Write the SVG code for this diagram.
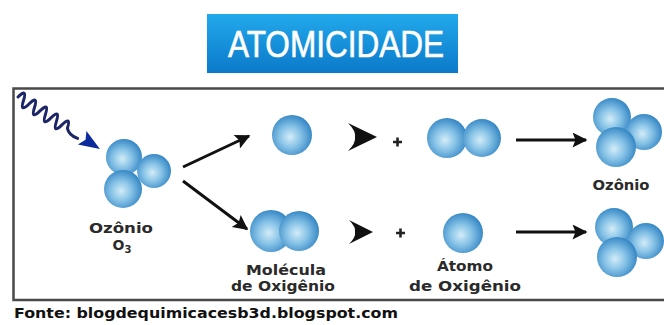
<svg xmlns="http://www.w3.org/2000/svg" width="664" height="325" viewBox="0 0 664 325">
  <defs>
    <linearGradient id="titleFill" x1="0" y1="0" x2="0" y2="1">
      <stop offset="0" stop-color="#22a9ec"/>
      <stop offset="1" stop-color="#0b79c9"/>
    </linearGradient>
    <radialGradient id="atom" cx="0.45" cy="0.55" r="0.6">
      <stop offset="0" stop-color="#d3ecf8"/>
      <stop offset="0.45" stop-color="#86c2e6"/>
      <stop offset="1" stop-color="#2a7fc0"/>
    </radialGradient>
    <marker id="head" viewBox="0 0 10 10" refX="9" refY="5" markerWidth="6" markerHeight="5" orient="auto" markerUnits="strokeWidth">
      <path d="M0,0 L10,5 L0,10 L2,5 Z" fill="#111"/>
    </marker>
  </defs>
  <style>
    .lbl { font-family: "DejaVu Sans", "Liberation Sans", sans-serif; font-weight: bold; font-size: 14px; fill: #2a2a2a; text-anchor: middle; }
    .conn { stroke: #111; stroke-width: 3; fill: none; marker-end: url(#head); }
    .chev { fill: #111; }
    .plus { stroke: #222; stroke-width: 2.6; }
    .atom { fill: url(#atom); }
  </style>

  <!-- title banner -->
  <g id="title">
    <rect x="207" y="14" width="251" height="59" fill="url(#titleFill)"/>
    <text x="336" y="57" font-family="'Liberation Sans', Arial, sans-serif" font-size="37" fill="#ffffff" stroke="#ffffff" stroke-width="0.6" text-anchor="middle" textLength="216" lengthAdjust="spacingAndGlyphs">ATOMICIDADE</text>
  </g>

  <!-- panel frame (open on the right) -->
  <path d="M670,88.5 H13.5 V300 H670" fill="none" stroke="#4a4a4a" stroke-width="2.5"/>

  <!-- incoming light wave -->
  <g id="light" transform="translate(18,97) rotate(32.4)">
    <path d="M0,0 q3,-13 6.5,0 t6.5,0 t6.5,0 t6.5,0 t6.5,0 t6.5,0 t6.5,0 t6.5,0 t6.5,0 q5,5 14,3" fill="none" stroke="#1c2566" stroke-width="3" stroke-linecap="round"/>
    <path d="M76,-8 L97,0 L76,8 L80,0 Z" fill="#0b2a9c"/>
  </g>

  <!-- ozone reactant -->
  <g id="ozone-left">
    <circle class="atom" cx="124" cy="157" r="18"/>
    <circle class="atom" cx="154" cy="171" r="17"/>
    <circle class="atom" cx="123" cy="189" r="19"/>
    <text class="lbl" x="121" y="233" textLength="64" lengthAdjust="spacingAndGlyphs">Ozônio</text>
    <text class="lbl" x="122" y="250" font-size="16">O<tspan font-size="10" dy="3">3</tspan></text>
  </g>

  <!-- top row -->
  <g id="atom-top">
    <circle class="atom" cx="292" cy="135" r="20"/>
  </g>
  <g id="o2-top">
    <circle class="atom" cx="447" cy="138" r="20"/>
    <circle class="atom" cx="482" cy="138" r="19"/>
  </g>
  <g id="ozone-top">
    <circle class="atom" cx="612" cy="117" r="19"/>
    <circle class="atom" cx="644" cy="132" r="18"/>
    <circle class="atom" cx="616" cy="147" r="20"/>
    <text class="lbl" x="621" y="190" textLength="57" lengthAdjust="spacingAndGlyphs">Ozônio</text>
  </g>

  <!-- bottom row -->
  <g id="o2-bottom">
    <circle class="atom" cx="271" cy="231" r="21"/>
    <circle class="atom" cx="299" cy="231" r="20"/>
    <text class="lbl" x="286" y="275" textLength="80" lengthAdjust="spacingAndGlyphs">Molécula</text>
    <text class="lbl" x="283" y="291" textLength="104" lengthAdjust="spacingAndGlyphs">de Oxigênio</text>
  </g>
  <g id="atom-bottom">
    <circle class="atom" cx="463" cy="233" r="20"/>
    <text class="lbl" x="465" y="271" textLength="56" lengthAdjust="spacingAndGlyphs">Átomo</text>
    <text class="lbl" x="465" y="291" textLength="112" lengthAdjust="spacingAndGlyphs">de Oxigênio</text>
  </g>
  <g id="ozone-bottom">
    <circle class="atom" cx="614" cy="227" r="19"/>
    <circle class="atom" cx="646" cy="241" r="18"/>
    <circle class="atom" cx="617" cy="257" r="20"/>
  </g>

  <!-- reaction arrows and signs -->
  <g id="connectors">
    <path class="conn" d="M183,167 L249,136"/>
    <path class="conn" d="M183,181 L247,229"/>
    <path class="conn" d="M516,140 L586,140"/>
    <path class="conn" d="M516,232 L586,232"/>
    <path class="chev" d="M377,137 L348,123 Q356,131 355,137 Q356,143 348,151 Z"/>
    <path class="chev" d="M373,232 L349,220 Q356,227 355,232 Q356,237 349,244 Z"/>
    <path class="plus" d="M393,142 h9 M397.5,137.5 v9"/>
    <path class="plus" d="M396,233 h9 M400.5,228.5 v9"/>
  </g>

  <!-- source line -->
  <text x="14" y="318" font-family="'DejaVu Sans', Verdana, sans-serif" font-weight="bold" font-size="14.5" fill="#111" textLength="384" lengthAdjust="spacingAndGlyphs">Fonte: blogdequimicacesb3d.blogspot.com</text>
</svg>
